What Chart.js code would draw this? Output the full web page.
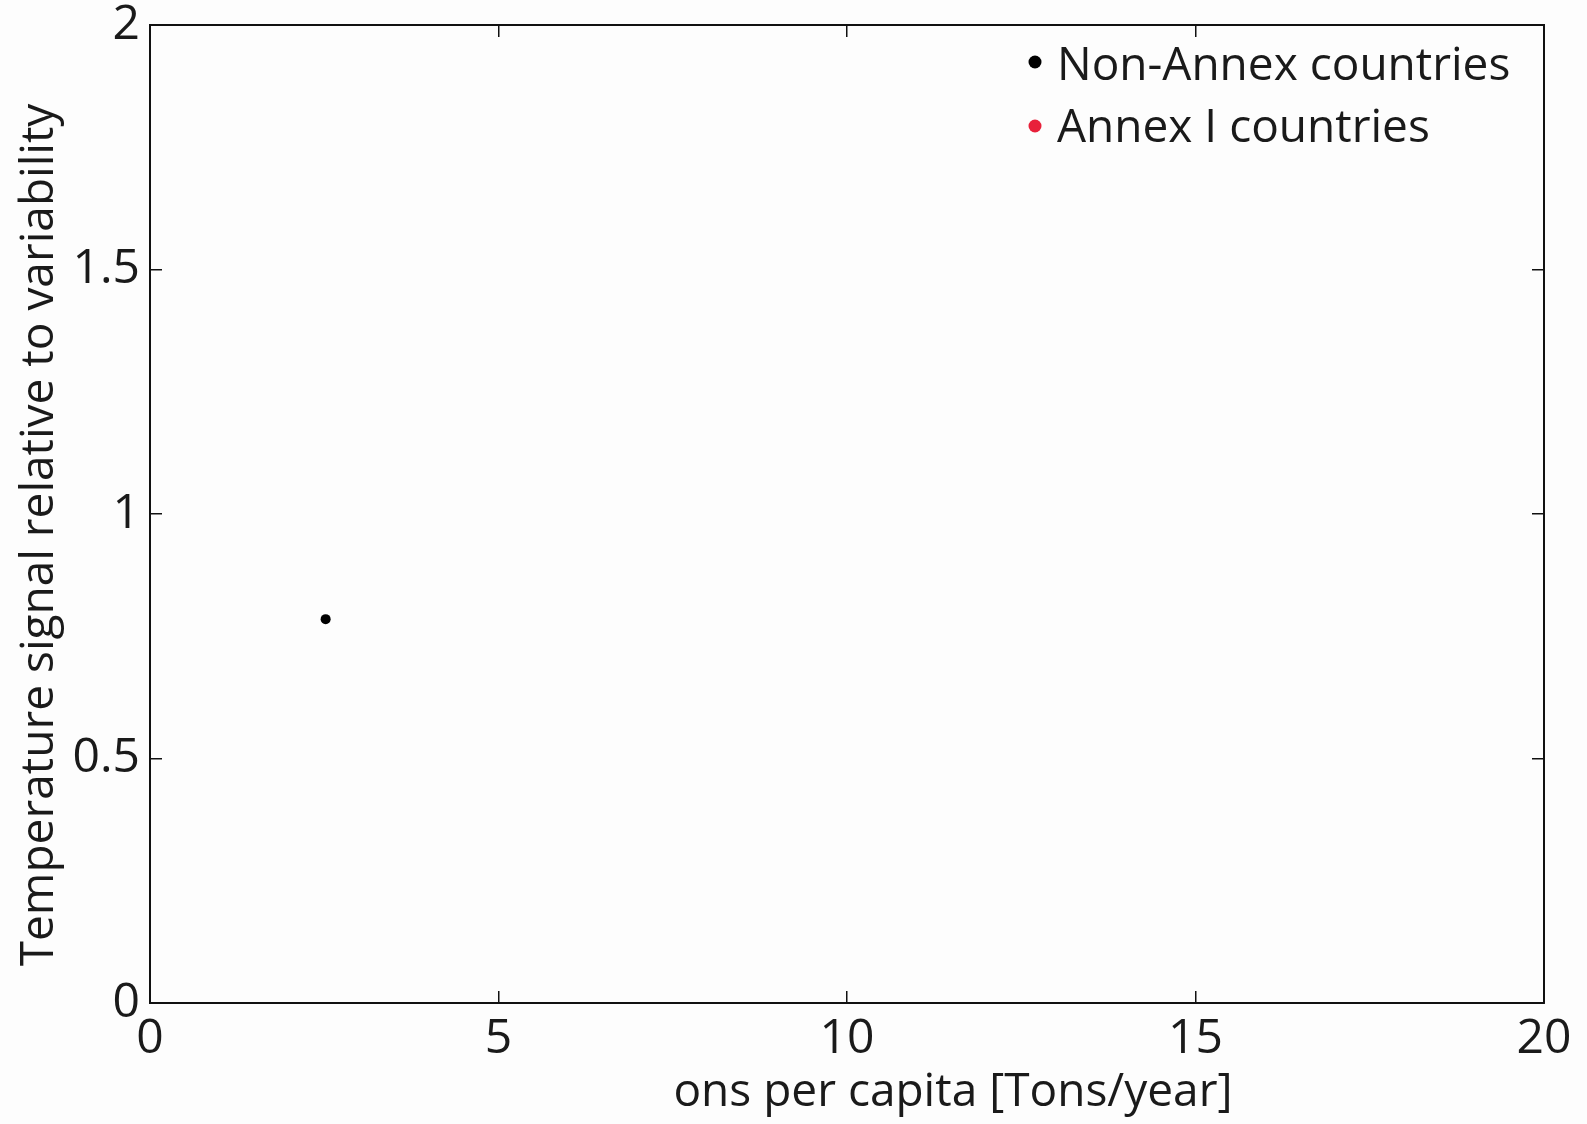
<!DOCTYPE html>
<html>
<head>
<meta charset="utf-8">
<script src="https://cdn.jsdelivr.net/npm/chart.js@4.4.0/dist/chart.umd.min.js"></script>
<style>
  html, body { margin: 0; padding: 0; background: #fdfdfd; }
  #wrap { width: 1587px; height: 1124px; }
</style>
</head>
<body>
<div id="wrap"><canvas id="chart"></canvas></div>
<script>
// data
const seriesNames = ['Non-Annex countries', 'Annex I countries'];
const seriesColors = ['#000000', '#e8203a'];
const nonAnnexX = [2.52];
const nonAnnexY = [0.785];
const annexX = [];
const annexY = [];
const xTicks = [0, 5, 10, 15, 20];
const yTicks = [0, 0.5, 1, 1.5, 2];
const xTitle = 'ons per capita [Tons/year]';
const yTitle = 'Temperature signal relative to variability';

const FONT = '"Open Sans", "Noto Sans", sans-serif';
const TEXT = '#1a1a1a';

function toPoints(xs, ys) {
  return xs.map((x, i) => ({ x: x, y: ys[i] }));
}

const bgPlugin = {
  id: 'bg',
  beforeDraw(chart) {
    const ctx = chart.ctx;
    ctx.save();
    ctx.fillStyle = '#fdfdfd';
    ctx.fillRect(0, 0, chart.width, chart.height);
    ctx.restore();
  }
};

// axis titles + legend drawn inside the plot, like the original
const overlayPlugin = {
  id: 'overlay',
  afterDraw(chart) {
    const ctx = chart.ctx;
    const area = chart.chartArea;
    ctx.save();
    ctx.fillStyle = TEXT;
    ctx.font = '46px ' + FONT;
    ctx.textAlign = 'center';
    ctx.textBaseline = 'alphabetic';
    ctx.fillText(xTitle, area.left + 0.576 * (area.right - area.left), 1106);

    ctx.translate(53, 535);
    ctx.rotate(-Math.PI / 2);
    ctx.fillText(yTitle, 0, 0);
    ctx.restore();

    ctx.save();
    ctx.font = '46px ' + FONT;
    ctx.textAlign = 'left';
    ctx.textBaseline = 'alphabetic';
    const baselines = [80, 142];
    const dotY = [62, 126];
    chart.data.datasets.forEach((ds, i) => {
      ctx.fillStyle = ds.backgroundColor;
      ctx.beginPath();
      ctx.arc(1035, dotY[i], 6.5, 0, Math.PI * 2);
      ctx.fill();
      ctx.fillStyle = TEXT;
      ctx.fillText(ds.label, 1057, baselines[i]);
    });
    ctx.restore();
  }
};

function axisOpts(extra) {
  return Object.assign({
    type: 'linear',
    border: { display: true, color: '#111', width: 2 },
    grid: { drawOnChartArea: false, drawTicks: true, tickLength: -12, color: '#111', lineWidth: 1.5 }
  }, extra);
}

function noPad(s) {
  s.paddingTop = 0; s.paddingBottom = 0; s.paddingLeft = 0; s.paddingRight = 0;
}

const chart = new Chart(document.getElementById('chart'), {
  type: 'scatter',
  data: {
    datasets: [
      {
        label: seriesNames[0],
        data: toPoints(nonAnnexX, nonAnnexY),
        backgroundColor: seriesColors[0],
        borderColor: seriesColors[0],
        pointRadius: 5,
        pointBorderWidth: 0
      },
      {
        label: seriesNames[1],
        data: toPoints(annexX, annexY),
        backgroundColor: seriesColors[1],
        borderColor: seriesColors[1],
        pointRadius: 5,
        pointBorderWidth: 0
      }
    ]
  },
  options: {
    responsive: true,
    maintainAspectRatio: false,
    animation: false,
    layout: { padding: { left: 0, right: 43, top: 25, bottom: 0 } },
    plugins: {
      legend: { display: false },
      tooltip: { enabled: false }
    },
    scales: {
      x: axisOpts({
        position: 'bottom',
        min: 0, max: 20,
        afterBuildTicks: s => { s.ticks = xTicks.map(v => ({ value: v })); },
        ticks: { color: TEXT, font: { family: FONT, size: 48 }, padding: 20, maxRotation: 0, callback: v => String(v) },
        afterFit: s => { s.height = 121; noPad(s); }
      }),
      y: axisOpts({
        position: 'left',
        min: 0, max: 2,
        afterBuildTicks: s => { s.ticks = yTicks.map(v => ({ value: v })); },
        ticks: { color: TEXT, font: { family: FONT, size: 48 }, padding: 22, callback: v => String(v) },
        afterFit: s => { s.width = 150; noPad(s); }
      }),
      xTop: axisOpts({
        position: 'top',
        min: 0, max: 20,
        afterBuildTicks: s => { s.ticks = xTicks.map(v => ({ value: v })); },
        ticks: { display: false },
        afterFit: s => { s.height = 0; noPad(s); }
      }),
      yRight: axisOpts({
        position: 'right',
        min: 0, max: 2,
        afterBuildTicks: s => { s.ticks = yTicks.map(v => ({ value: v })); },
        ticks: { display: false },
        afterFit: s => { s.width = 0; noPad(s); }
      })
    }
  },
  plugins: [bgPlugin, overlayPlugin]
});
</script>
</body>
</html>
